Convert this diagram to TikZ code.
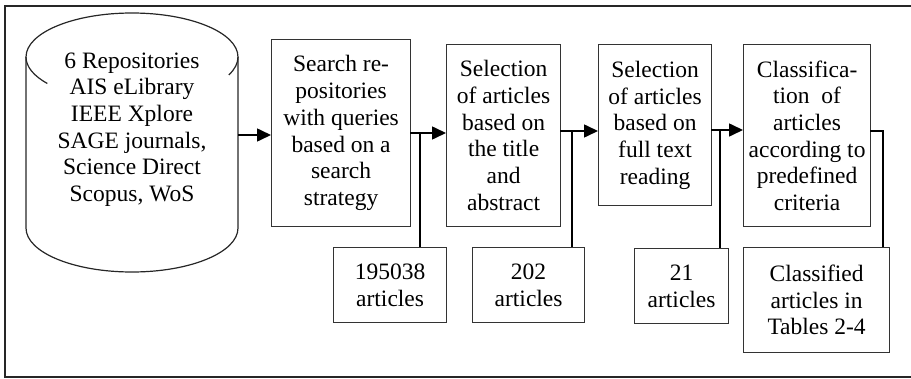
\documentclass[tikz,border=0pt]{standalone}
\usepackage{fontspec}
\setmainfont{Liberation Serif}
\usetikzlibrary{arrows.meta,calc}
\begin{document}
\begin{tikzpicture}[x=1pt,y=-1pt,
  txt/.style={font=\fontsize{23.5}{26.7}\selectfont, align=center, inner sep=0pt},
  stepbox/.style={txt, draw=black!80, line width=1.2pt, anchor=north west},
  link/.style={draw=black, line width=1.6pt},
  arr/.style={link, -{Triangle[length=14pt,width=13pt]}},
  frameline/.style={draw=black!85, line cap=rect}]
\useasboundingbox (0,0) rectangle (911,378);

% outer frame (open on the right)
\draw[frameline, line width=2.6pt] (5,6) -- (911,6);
\draw[frameline, line width=2.2pt] (5,6) -- (5,377);
\draw[frameline, line width=1.6pt] (5,377) -- (911,377);

% repository cylinder (y axis points down, so angles run clockwise on the page)
\draw[draw=black!85, line width=1.2pt]
  (26,57) -- (26,228) arc[start angle=180, end angle=0, x radius=106, y radius=44]
  -- (238,57) arc[start angle=0, end angle=-180, x radius=106, y radius=44];
\draw[draw=black!85, line width=1.2pt]
  (26,57) arc[start angle=180, end angle=143, x radius=106, y radius=44];
\draw[draw=black!85, line width=1.2pt]
  (238,57) arc[start angle=0, end angle=24, x radius=106, y radius=44];
\node[txt] (cyl) at (132,129.5) {6 Repositories\\AIS eLibrary\\IEEE Xplore\\SAGE journals,\\Science Direct\\Scopus, WoS};
\coordinate (cylR) at (238,135);

% process steps
\node[stepbox, minimum width=139, minimum height=187] (s1) at (271,39)
  {Search re-\\positories\\with queries\\based on a\\search\\strategy};
\node[stepbox, minimum width=114, minimum height=182] (s2) at (446,44)
  {Selection\\of articles\\based on\\the title\\and\\abstract};
\node[stepbox, minimum width=113, minimum height=161] (s3) at (598,44)
  {Selection\\of articles\\based on\\full text\\reading};
\node[stepbox, minimum width=127, minimum height=182] (s4) at (743,44)
  {Classifica-\\tion\ \ of\\articles\\according to\\predefined\\criteria};

% result boxes
\node[stepbox, minimum width=113, minimum height=75] (r1) at (333,247) {195038\\articles};
\node[stepbox, minimum width=112, minimum height=75] (r2) at (472,247) {202\\articles};
\node[stepbox, minimum width=94, minimum height=75] (r3) at (634,248) {21\\articles};
\node[stepbox, minimum width=146, minimum height=105] (r4) at (743,247) {Classified\\articles in\\Tables 2-4};

% branch points on the flow
\coordinate (a1) at (410,133);
\coordinate (b1) at (420,133);
\coordinate (a2) at (560,131);
\coordinate (b2) at (572,131);
\coordinate (a3) at (711,130);
\coordinate (b3) at (720,130);
\coordinate (a4) at (870,131);
\coordinate (b4) at (883,131);

% flow arrows
\draw[arr] (cylR) -- (cylR -| s1.west);
\draw[arr] (a1) -- (a1 -| s2.west);
\draw[arr] (a2) -- (a2 -| s3.west);
\draw[arr] (a3) -- (a3 -| s4.west);

% outputs
\draw[link] (b1) -- (b1 |- r1.north);
\draw[link] (b2) -- (b2 |- r2.north);
\draw[link] (b3) -- (b3 |- r3.north);
\draw[link] (a4) -- (b4) -- (b4 |- r4.north);
\end{tikzpicture}
\end{document}
